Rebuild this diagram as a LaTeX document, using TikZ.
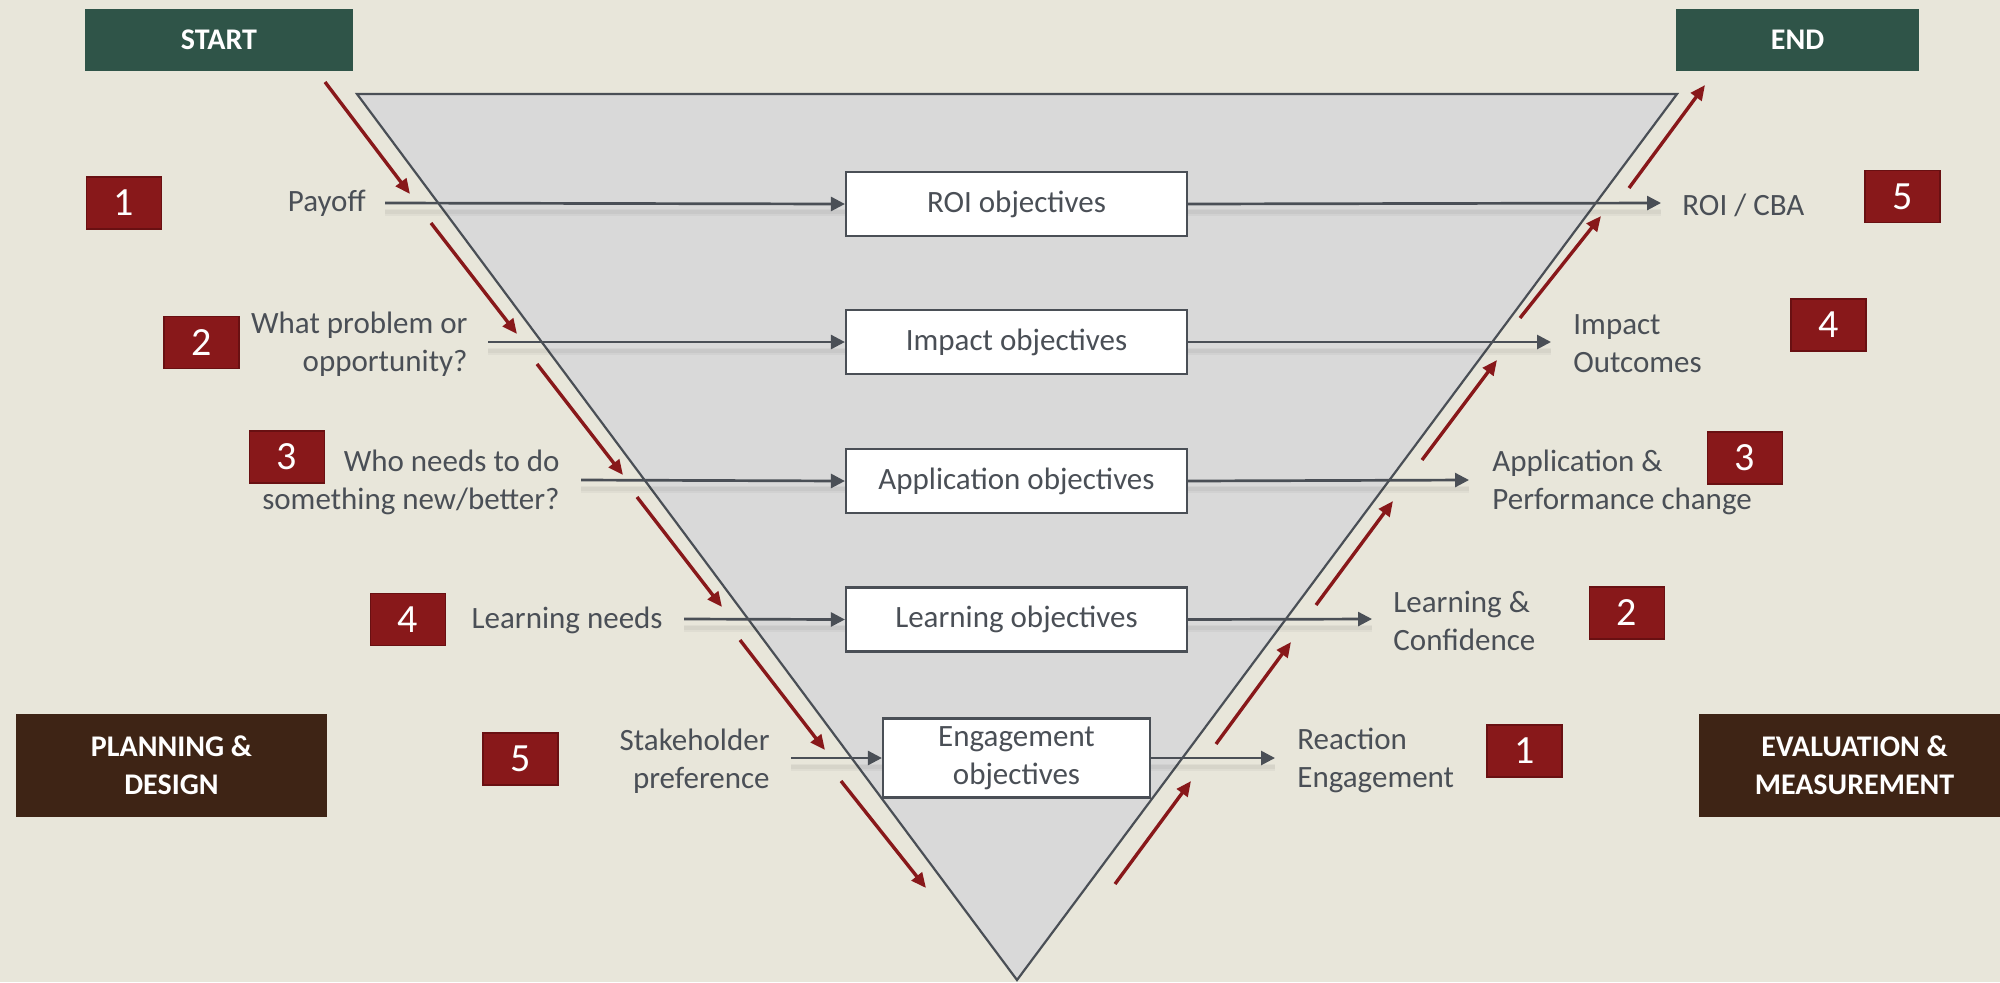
\documentclass[tikz,border=0pt]{standalone}
\usepackage{fontspec}
\setmainfont{Carlito}
\usetikzlibrary{arrows.meta}

\definecolor{bgbeige}{RGB}{232,230,218}
\definecolor{hdrgreen}{RGB}{47,84,72}
\definecolor{phasebrown}{RGB}{62,36,21}
\definecolor{numred}{RGB}{136,24,26}
\definecolor{numredline}{RGB}{105,16,18}
\definecolor{flowred}{RGB}{136,24,26}
\definecolor{funnelgray}{RGB}{217,217,217}
\definecolor{linegray}{RGB}{74,79,86}

\tikzset{
  hdrbox/.style={fill=hdrgreen, text=white, minimum height=31pt, inner sep=0pt,
    font=\fontsize{15}{19}\selectfont\bfseries},
  phasebox/.style={fill=phasebrown, text=white, minimum width=155.5pt, minimum height=51.5pt,
    inner sep=0pt, align=center, font=\fontsize{15}{19}\selectfont\bfseries},
  numbox/.style={fill=numred, draw=numredline, line width=0.8pt, minimum width=37.5pt,
    minimum height=26pt, inner sep=0pt, text=white, font=\fontsize{20}{24}\selectfont},
  objbox/.style={fill=white, draw=linegray, line width=1.1pt, minimum width=170.5pt,
    minimum height=32pt, inner sep=0pt, align=center, text=linegray,
    font=\fontsize{15.5}{19}\selectfont},
  lefttext/.style={anchor=east, align=right, inner sep=0pt, text=linegray,
    font=\fontsize{15.5}{19}\selectfont},
  righttext/.style={anchor=west, align=left, inner sep=0pt, text=linegray,
    font=\fontsize{15.5}{19}\selectfont},
  rowline/.style={draw=linegray, line width=1.35pt, -{Triangle[length=7pt,width=7pt]}},
  rowshadow/.style={draw=black, line width=3.5pt, opacity=0.035},
  rowshadowcore/.style={draw=black, line width=1.6pt, opacity=0.04},
  flowarrow/.style={draw=flowred, line width=1.7pt, -{Triangle[length=7.5pt,width=6.5pt]}},
}

\begin{document}
\begin{tikzpicture}[x=0.5pt, y=-0.5pt]
  % canvas
  \useasboundingbox (0,0) rectangle (2000,982);
  \clip (0,0) rectangle (2000,982);
  \fill[bgbeige] (0,0) rectangle (2000,982);

  % inverted funnel
  \coordinate (ftl) at (357,94);
  \coordinate (ftr) at (1677,94);
  \coordinate (fbot) at (1017,980);
  \filldraw[fill=funnelgray, draw=linegray, line width=1.1pt, line join=miter]
    (ftl) -- (ftr) -- (fbot) -- cycle;

  % phase headers
  \node[hdrbox, minimum width=134pt] (start) at (219,40) {START};
  \node[hdrbox, minimum width=121.5pt] (end) at (1797.5,40) {END};
  \node[phasebox] (plan) at (171.5,765.5) {PLANNING \&\\DESIGN};
  \node[phasebox] (eval) at (1854.5,765.5) {EVALUATION \&\\MEASUREMENT};

  % row connector ends
  \coordinate (in1) at (385,203);
  \coordinate (in2) at (488,342);
  \coordinate (in3) at (581,480);
  \coordinate (in4) at (684,619);
  \coordinate (in5) at (791,758);
  \coordinate (out1) at (1661,203);
  \coordinate (out2) at (1551,342);
  \coordinate (out3) at (1469,480);
  \coordinate (out4) at (1372,619);
  \coordinate (out5) at (1275,758);

  % soft shadows under the row connectors
  \foreach \a/\b in {in1/out1, in2/out2, in3/out3, in4/out4, in5/out5} {
    \draw[rowshadow] ([yshift=-4.5pt]\a) -- ([yshift=-4.5pt]\b);
    \draw[rowshadowcore] ([yshift=-4.5pt]\a) -- ([yshift=-4.5pt]\b);
  }

  % objective boxes
  \node[objbox] (roi) at (1016.5,204) {ROI objectives};
  \node[objbox] (imp) at (1016.5,342) {Impact objectives};
  \node[objbox] (app) at (1016.5,481) {Application objectives};
  \node[objbox] (lrn) at (1016.5,619.5) {Learning objectives};
  \node[objbox, minimum width=133.5pt, minimum height=39.5pt] (eng) at (1016.5,758)
    {Engagement\\objectives};

  % planning side labels
  \node[lefttext] (payoff) at (366,203) {Payoff};
  \node[lefttext] (problem) at (468,344) {What problem or\\opportunity?};
  \node[lefttext] (who) at (560,482) {Who needs to do\\something new/better?};
  \node[lefttext] (needs) at (663,620) {Learning needs};
  \node[lefttext] (stake) at (770,761) {Stakeholder\\preference};

  % evaluation side labels
  \node[righttext] (roicba) at (1682,205) {ROI / CBA};
  \node[righttext] (outc) at (1573,344) {Impact\\Outcomes};
  \node[righttext] (perf) at (1492,482) {Application \&\\Performance change};
  \node[righttext] (conf) at (1393,621) {Learning \&\\Confidence};
  \node[righttext] (react) at (1297,760) {Reaction\\Engagement};

  % level numbers
  \node[numbox] (p1) at (124,203) {1};
  \node[numbox] (p2) at (201.5,342.5) {2};
  \node[numbox] (p3) at (287,457) {3};
  \node[numbox] (p4) at (408,619.5) {4};
  \node[numbox] (p5) at (520.5,759) {5};
  \node[numbox] (e5) at (1902.5,196.5) {5};
  \node[numbox] (e4) at (1828.5,325) {4};
  \node[numbox] (e3) at (1745,458) {3};
  \node[numbox] (e2) at (1627,613) {2};
  \node[numbox] (e1) at (1524.5,751) {1};

  % row connectors
  \draw[rowline] (in1) -- (roi.west);
  \draw[rowline] (in2) -- (imp.west);
  \draw[rowline] (in3) -- (app.west);
  \draw[rowline] (in4) -- (lrn.west);
  \draw[rowline] (in5) -- (eng.west);
  \draw[rowline] (roi.east) -- (out1);
  \draw[rowline] (imp.east) -- (out2);
  \draw[rowline] (app.east) -- (out3);
  \draw[rowline] (lrn.east) -- (out4);
  \draw[rowline] (eng.east) -- (out5);

  % red flow arrows down the planning side
  \foreach \i/\xa/\ya/\xb/\yb in {
      1/325/82/410/194, 2/431/223/517/334, 3/537/364/623/475,
      4/637/497/722/607, 5/740/640/825/750, 6/841/781/926/888} {
    \coordinate (dn\i a) at (\xa,\ya);
    \coordinate (dn\i b) at (\xb,\yb);
    \draw[flowarrow] (dn\i a) -- (dn\i b);
  }
  % red flow arrows up the evaluation side
  \foreach \i/\xa/\ya/\xb/\yb in {
      1/1115/884/1191/781, 2/1216/744/1291/642, 3/1316/605/1393/501,
      4/1422/460/1497/360, 5/1520/318/1601/216, 6/1629/188/1705/85} {
    \coordinate (up\i a) at (\xa,\ya);
    \coordinate (up\i b) at (\xb,\yb);
    \draw[flowarrow] (up\i a) -- (up\i b);
  }
\end{tikzpicture}
\end{document}
